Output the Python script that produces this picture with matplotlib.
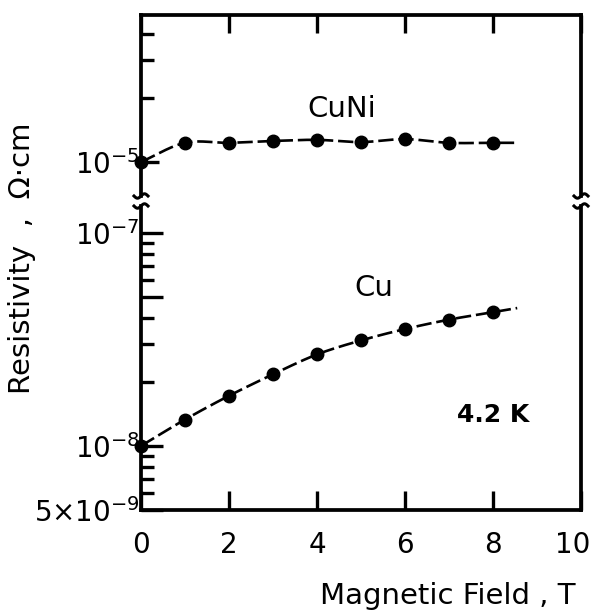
import numpy as np
import matplotlib
matplotlib.use("Agg")
import matplotlib.pyplot as plt
from matplotlib.lines import Line2D
from matplotlib.transforms import ScaledTranslation
from matplotlib.ticker import FixedLocator, FixedFormatter, NullFormatter

# ---- data: resistivity at 4.2 K versus magnetic field ----
field_T = [0, 1, 2, 3, 4, 5, 6, 7, 8]
cuni_rho = [1.00e-5, 1.23e-5, 1.23e-5, 1.255e-5, 1.27e-5, 1.24e-5, 1.28e-5, 1.23e-5, 1.23e-5]
cu_rho = [1.00e-8, 1.33e-8, 1.72e-8, 2.17e-8, 2.69e-8, 3.13e-8, 3.54e-8, 3.92e-8, 4.25e-8]
cuni_guide_end = 8.5
cu_guide_end = 8.55

x_ticks = [0, 2, 4, 6, 8, 10]
x_ticklabels = ["0", "2", "4", "6", "8", "10"]
upper_yticks = [1e-5]
upper_yticklabels = ["10$^{-5}$"]
upper_minor = [2e-5, 3e-5, 4e-5]
lower_yticks = [5e-9, 1e-8, 5e-8, 1e-7]
lower_yticklabels = ["5×10$^{-9}$", "10$^{-8}$", "", "10$^{-7}$"]
lower_minor = [6e-9, 7e-9, 8e-9, 9e-9, 2e-8, 3e-8, 4e-8, 6e-8, 7e-8, 8e-8, 9e-8]

W, H = 595, 615
plt.rcParams["font.family"] = ["DejaVu Sans"]
plt.rcParams["mathtext.fontset"] = "dejavusans"
plt.rcParams["lines.scale_dashes"] = False

fig = plt.figure(figsize=(W / 100, H / 100), dpi=100)


def px_rect(left, top, right, bottom):
    return [left / W, 1 - bottom / H, (right - left) / W, (bottom - top) / H]


ax_up = fig.add_axes(px_rect(141, 15, 581, 196))
ax_lo = fig.add_axes(px_rect(141, 206, 581, 510))

SPINE_LW = 2.7
for ax in (ax_up, ax_lo):
    ax.set_yscale("log")
    ax.set_xlim(0, 10)
    ax.set_facecolor("none")
    for s in ax.spines.values():
        s.set_linewidth(SPINE_LW)
        s.set_capstyle("projecting")

ax_up.set_ylim(6.92e-6, 4.9e-5)
ax_lo.set_ylim(5.0e-9, 1.34e-7)

ax_up.spines["bottom"].set_visible(False)
ax_lo.spines["top"].set_visible(False)

TICK_FS = 20
TEXT_FS = 21

# x ticks: top of upper panel and bottom of lower panel, pointing inwards
ax_up.xaxis.set_major_locator(FixedLocator(x_ticks))
ax_up.tick_params(axis="x", which="both", top=True, bottom=False,
                  labeltop=False, labelbottom=False, direction="in",
                  length=13, width=2.4)
ax_lo.xaxis.set_major_locator(FixedLocator(x_ticks))
ax_lo.xaxis.set_major_formatter(FixedFormatter(x_ticklabels))
ax_lo.tick_params(axis="x", which="both", top=False, bottom=True,
                  direction="in", length=14, width=2.4, pad=15,
                  labelsize=TICK_FS)
ax_lo.xaxis.set_minor_locator(FixedLocator([]))
ax_up.xaxis.set_minor_locator(FixedLocator([]))

# y ticks on the left spine only
ax_up.yaxis.set_major_locator(FixedLocator(upper_yticks))
ax_up.yaxis.set_major_formatter(FixedFormatter(upper_yticklabels))
ax_up.yaxis.set_minor_locator(FixedLocator(upper_minor))
ax_up.yaxis.set_minor_formatter(NullFormatter())
ax_lo.yaxis.set_major_locator(FixedLocator(lower_yticks))
ax_lo.yaxis.set_major_formatter(FixedFormatter(lower_yticklabels))
ax_lo.yaxis.set_minor_locator(FixedLocator(lower_minor))
ax_lo.yaxis.set_minor_formatter(NullFormatter())
for ax, major_len in ((ax_up, 13), (ax_lo, 16)):
    ax.tick_params(axis="y", which="major", left=True, right=False,
                   direction="in", length=major_len, width=2.4, pad=1,
                   labelsize=TICK_FS)
    ax.tick_params(axis="y", which="minor", left=True, right=False,
                   direction="in", length=9, width=2.4)

# keep the last x label ("10") inside the figure edge
last_tick = ax_lo.xaxis.get_major_ticks()[-1]
last_tick.label1.set_transform(last_tick.label1.get_transform()
                               + ScaledTranslation(-6 / 72, 0, fig.dpi_scale_trans))


def guide_curve(x, y, x_end, n=40):
    """Smooth cubic Hermite guide through the points (in log space),
    continued linearly a little beyond the last point."""
    x = np.asarray(x, float)
    ly = np.log10(np.asarray(y, float))
    m = np.gradient(ly, x)
    xs, ys = [], []
    t = np.linspace(0, 1, n)
    h00 = 2 * t**3 - 3 * t**2 + 1
    h10 = t**3 - 2 * t**2 + t
    h01 = -2 * t**3 + 3 * t**2
    h11 = t**3 - t**2
    for i in range(len(x) - 1):
        h = x[i + 1] - x[i]
        xs.append(x[i] + h * t)
        ys.append(h00 * ly[i] + h10 * h * m[i] + h01 * ly[i + 1] + h11 * h * m[i + 1])
    xe = np.linspace(x[-1], x_end, 8)
    xs.append(xe)
    ys.append(ly[-1] + m[-1] * (xe - x[-1]))
    return np.concatenate(xs), 10 ** np.concatenate(ys)


LINE_KW = dict(color="black", lw=1.9, dashes=(11, 3.5), solid_capstyle="butt",
               dash_capstyle="butt")
MARK_KW = dict(marker="o", ms=9, color="black", ls="none", clip_on=False, zorder=5)

gx, gy = guide_curve(field_T, cuni_rho, cuni_guide_end)
ax_up.plot(gx, gy, **LINE_KW)
ax_up.plot(field_T, cuni_rho, **MARK_KW)

gx, gy = guide_curve(field_T, cu_rho, cu_guide_end)
ax_lo.plot(gx, gy, **LINE_KW)
ax_lo.plot(field_T, cu_rho, **MARK_KW)

ax_up.text(4.57, 1.77e-5, "CuNi", fontsize=TEXT_FS, ha="center", va="center")
ax_lo.text(5.3, 5.5e-8, "Cu", fontsize=TEXT_FS, ha="center", va="center")
ax_lo.text(8.0, 1.39e-8, "4.2 K", fontsize=18, fontweight="bold",
           ha="center", va="center")

fig.text(22 / W, 1 - 258 / H, "Resistivity  ,  Ω·cm", rotation=90,
         fontsize=TEXT_FS, ha="center", va="center")
fig.text(448 / W, 1 - 596 / H, "Magnetic Field , T", fontsize=TEXT_FS,
         ha="center", va="center")


# axis-break marks on both vertical spines
def break_mark(xc, yc):
    s = np.linspace(-1, 1, 30)
    xs = xc + 7 * s
    ys = yc - 2.2 * np.sin(np.pi * s)
    fig.add_artist(Line2D(xs / W, 1 - ys / H, color="black", lw=2.2,
                          transform=fig.transFigure))


for xc in (141, 581):
    break_mark(xc, 196)
    break_mark(xc, 206)

fig.savefig("out.png", dpi=100, facecolor="white")
